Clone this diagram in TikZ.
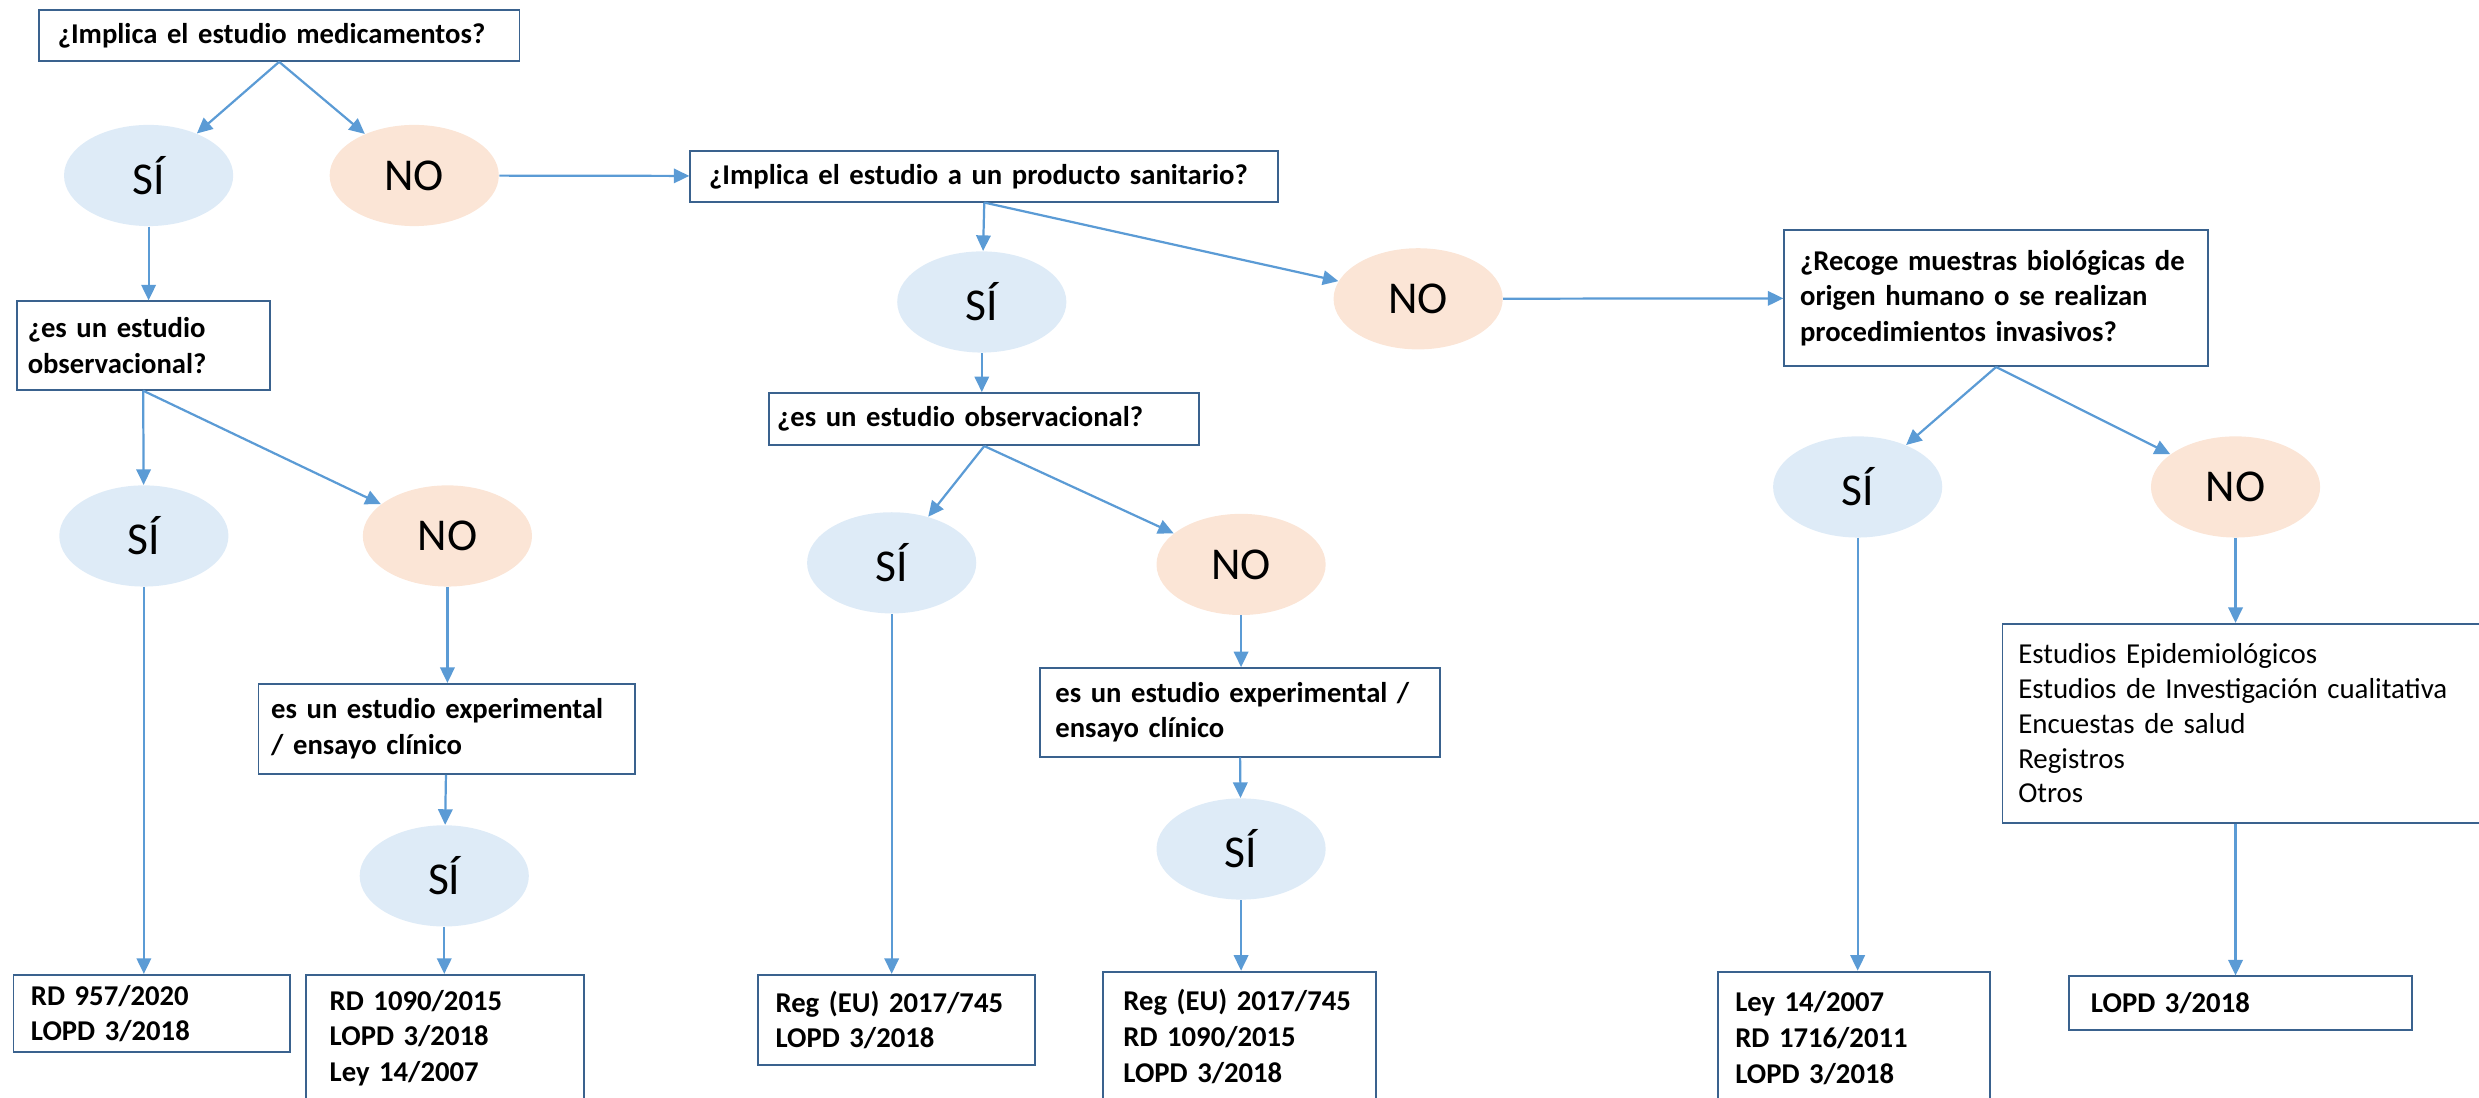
\documentclass[tikz,border=0pt]{standalone}
\usepackage{fontspec}
\setmainfont{Carlito}
\usepackage{xcolor}
\usetikzlibrary{shapes.geometric,arrows.meta,positioning}
\definecolor{mblue}{HTML}{5B9BD5}
\definecolor{mnavy}{HTML}{3A628E}
\definecolor{msky}{HTML}{DEEBF7}
\definecolor{mpeach}{HTML}{FBE5D6}
\newcommand{\askfont}{\fontsize{12.9}{16}\selectfont\bfseries}
\newcommand{\ansfont}{\fontsize{20.5}{24}\selectfont}
\newcommand{\listfont}{\fontsize{13}{15.6}\selectfont}
\tikzstyle{l2}=[line width=0.8pt]
\tikzstyle{ask}=[draw=mnavy, l2, align=left, anchor=north west, inner ysep=0pt, font=\askfont]
\tikzstyle{list}=[ask, font=\listfont]
\tikzstyle{yes}=[ellipse, fill=msky, minimum width=26.75mm, minimum height=16mm, inner sep=0pt, font=\ansfont]
\tikzstyle{nope}=[yes, fill=mpeach]
\tikzstyle{flow}=[line width=1pt, draw=mblue, -{Triangle[length=7pt, width=6.5pt]}]

\begin{document}
\begin{tikzpicture}[x=0.25mm, y=-0.25mm]
    \useasboundingbox (0,0) rectangle (1568,694);

    % left column
    \node (q1) [ask, inner xsep=3mm, text width=70mm, minimum height=8mm] at (24,6) {¿Implica el estudio medicamentos?};
    \node (s1) [yes] at (94,111) {SÍ};
    \node (n1) [nope] at (262,111) {NO};
    \node (q2) [ask, inner xsep=1.75mm, text width=36.5mm, minimum height=14mm] at (10,190) {¿es un estudio\\observacional?};
    \node (s2) [yes] at (91,339) {SÍ};
    \node (n2) [nope] at (283,339) {NO};
    \node (q4) [ask, inner xsep=2mm, text width=55.5mm, minimum height=14.25mm] at (163,432) {es un estudio experimental\\/ ensayo clínico};
    \node (s3) [yes] at (281,554) {SÍ};
    \node (r1) [ask, inner xsep=2.75mm, text width=38.25mm, minimum height=12.25mm] at (8,616) {RD 957/2020\\LOPD 3/2018};
    \node (r2) [ask, inner xsep=3.75mm, text width=36.5mm, minimum height=20mm] at (193,616) {RD 1090/2015\\LOPD 3/2018\\Ley 14/2007};

    % middle column
    \node (q3) [ask, inner xsep=3mm, text width=87mm, minimum height=8mm] at (436,95) {¿Implica el estudio a un producto sanitario?};
    \node (s4) [yes] at (621,191) {SÍ};
    \node (n3) [nope] at (897,189) {NO};
    \node (q6) [ask, inner xsep=1.25mm, text width=65.5mm, minimum height=8.25mm] at (486,248) {¿es un estudio observacional?};
    \node (s5) [yes] at (564,356) {SÍ};
    \node (n4) [nope] at (785,357) {NO};
    \node (q7) [ask, inner xsep=2.5mm, text width=58.25mm, minimum height=14mm] at (657,422) {es un estudio experimental /\\ensayo clínico};
    \node (s6) [yes] at (785,537) {SÍ};
    \node (r3) [ask, inner xsep=2.75mm, text width=38.25mm, minimum height=14.25mm] at (479,616) {Reg (EU) 2017/745\\LOPD 3/2018};
    \node (r4) [ask, inner xsep=3.25mm, text width=36.75mm, minimum height=20.5mm] at (697,614) {Reg (EU) 2017/745\\RD 1090/2015\\LOPD 3/2018};

    % right column
    \node (q5) [ask, inner xsep=2.5mm, text width=62mm, minimum height=21.5mm] at (1128,145) {¿Recoge muestras biológicas de\\origen humano o se realizan\\procedimientos invasivos?};
    \node (s7) [yes] at (1175,308) {SÍ};
    \node (n5) [nope] at (1414,308) {NO};
    \node (lst) [list, inner xsep=2.5mm, text width=71.5mm, minimum height=31.5mm] at (1266,394) {Estudios Epidemiológicos\\Estudios de Investigación cualitativa\\Encuestas de salud\\Registros\\Otros};
    \node (r5) [ask, inner xsep=2.75mm, text width=37.5mm, minimum height=21mm] at (1086,614) {Ley 14/2007\\RD 1716/2011\\LOPD 3/2018};
    \node (r6) [ask, inner xsep=3.5mm, text width=47.25mm, minimum height=8.5mm] at (1308,617) {LOPD 3/2018};

    \draw[flow] (q1.south) -- (s1);
    \draw[flow] (q1.south) -- (n1);
    \draw[flow] (n1) -- (q3);
    \draw[flow] (s1) -- (s1 |- q2.north);
    \draw[flow] (q2.south) -- (s2);
    \draw[flow] (q2.south) -- (n2);
    \draw[flow] (s2) -- (s2 |- r1.north);
    \draw[flow] (n2) -- (n2 |- q4.north);
    \draw[flow] (q4) -- (s3);
    \draw[flow] (s3) -- (s3 |- r2.north);

    \draw[flow] (q3.south) -- (s4);
    \draw[flow] (q3.south) -- (n3);
    \draw[flow] (n3) -- (q5);
    \draw[flow] (s4) -- (s4 |- q6.north);
    \draw[flow] (q6.south) -- (s5);
    \draw[flow] (q6.south) -- (n4);
    \draw[flow] (s5) -- (s5 |- r3.north);
    \draw[flow] (n4) -- (n4 |- q7.north);
    \draw[flow] (q7) -- (s6);
    \draw[flow] (s6) -- (s6 |- r4.north);

    \draw[flow] (q5.south) -- (s7);
    \draw[flow] (q5.south) -- (n5);
    \draw[flow] (s7) -- (s7 |- r5.north);
    \draw[flow] (n5) -- (n5 |- lst.north);
    \draw[flow] (n5 |- lst.south) -- (n5 |- r6.north);
\end{tikzpicture}
\end{document}
